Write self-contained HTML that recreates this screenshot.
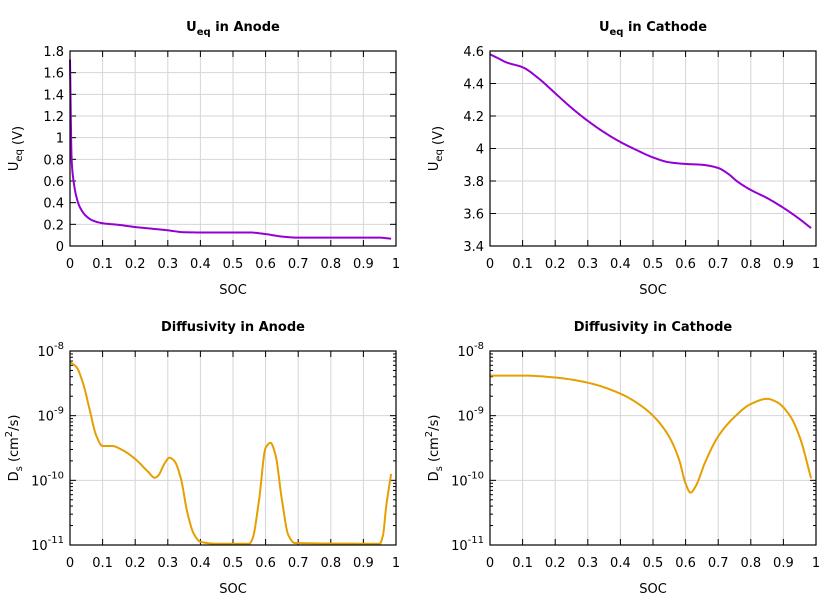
<!DOCTYPE html><html><head><meta charset="utf-8"><style>body{margin:0;background:#fff}svg{display:block}text{font-family:"DejaVu Sans","Liberation Sans",sans-serif;font-size:13px;fill:#000}</style></head><body>
<svg id="s" width="840" height="600" xmlns="http://www.w3.org/2000/svg"></svg>
<script>
const S=document.getElementById('s');let h='';
function mono(d){const n=d.length,xs=d.map(p=>p[0]),ys=d.map(p=>p[1]);const dl=[],m=[];for(let i=0;i<n-1;i++)dl.push((ys[i+1]-ys[i])/(xs[i+1]-xs[i]));m[0]=dl[0];m[n-1]=dl[n-2];for(let i=1;i<n-1;i++){if(dl[i-1]*dl[i]<=0)m[i]=0;else{const w1=2*(xs[i+1]-xs[i])+(xs[i]-xs[i-1]),w2=(xs[i+1]-xs[i])+2*(xs[i]-xs[i-1]);m[i]=(w1+w2)/(w1/dl[i-1]+w2/dl[i]);}}
 const out=[];for(let i=0;i<n-1;i++){const hh=xs[i+1]-xs[i];for(let k=0;k<20;k++){const t=k/20,h00=2*t*t*t-3*t*t+1,h10=t*t*t-2*t*t+t,h01=-2*t*t*t+3*t*t,h11=t*t*t-t*t;out.push([xs[i]+t*hh,h00*ys[i]+h10*hh*m[i]+h01*ys[i+1]+h11*hh*m[i+1]]);}}out.push(d[n-1]);return out;}
function panel(x0,x1,y0,y1,title,ylab,yt,ymin,ymax,log,data,col){
 const W=x1-x0,H=y1-y0,X=v=>x0+v*W,Y=v=>y1-(v-ymin)/(ymax-ymin)*H;
 for(let i=0;i<=10;i++){const x=X(i/10);if(i>0&&i<10)h+=`<line x1="${x}" y1="${y0}" x2="${x}" y2="${y1}" stroke="#d6d6d6"/>`;h+=`<line x1="${x}" y1="${y1}" x2="${x}" y2="${y1-6}" stroke="#000"/><line x1="${x}" y1="${y0}" x2="${x}" y2="${y0+6}" stroke="#000"/><text x="${x}" y="${y1+22}" text-anchor="middle">${i==0?0:i==10?1:(i/10)}</text>`;}
 yt.forEach((t,i)=>{const y=Y(t[0]);if(i>0&&i<yt.length-1)h+=`<line x1="${x0}" y1="${y}" x2="${x1}" y2="${y}" stroke="#d6d6d6"/>`;h+=`<line x1="${x0}" y1="${y}" x2="${x0+6}" y2="${y}" stroke="#000"/><line x1="${x1}" y1="${y}" x2="${x1-6}" y2="${y}" stroke="#000"/><text x="${x0-6}" y="${y+5}" text-anchor="end">${t[1]}</text>`;});
 if(log){for(let d=-11;d<-8;d++)for(let k=2;k<10;k++){const y=Y(d+Math.log10(k));h+=`<line x1="${x0}" y1="${y}" x2="${x0+3}" y2="${y}" stroke="#000"/><line x1="${x1}" y1="${y}" x2="${x1-3}" y2="${y}" stroke="#000"/>`;}}
 const pts=mono(data).map(p=>X(p[0]).toFixed(2)+','+Y(p[1]).toFixed(2));
 h+=`<polyline points="${pts.join(' ')}" fill="none" stroke="${col}" stroke-width="2" stroke-linejoin="round"/>`;
 h+=`<rect x="${x0}" y="${y0}" width="${W}" height="${H}" fill="none" stroke="#000" stroke-width="1.2"/>`;
 h+=`<text x="${(x0+x1)/2}" y="${y0-20}" text-anchor="middle" font-weight="bold">${title}</text>`;
 h+=`<text x="${(x0+x1)/2}" y="${y1+48}" text-anchor="middle">SOC</text>`;
 h+=`<text transform="translate(${x0-52},${(y0+y1)/2}) rotate(-90)" text-anchor="middle">${ylab}</text>`;
}
const sub=(a,b)=>`${a}<tspan font-size="10" dy="4">${b}</tspan><tspan dy="-4"></tspan>`;
const lt=[[-8,'10<tspan font-size="10" dy="-7">-8</tspan>'],[-9,'10<tspan font-size="10" dy="-7">-9</tspan>'],[-10,'10<tspan font-size="10" dy="-7">-10</tspan>'],[-11,'10<tspan font-size="10" dy="-7">-11</tspan>']].reverse();
const ytA=[];for(let i=0;i<=9;i++)ytA.push([i*0.2,i==0?'0':i==5?'1':(i*0.2).toFixed(1)]);
const ytC=[];for(let i=0;i<=6;i++)ytC.push([3.4+i*0.2,i==3?'4':(3.4+i*0.2).toFixed(1)]);
const P='#9400d3',O='#e69f00';
panel(70,396,51,246,'<tspan>U</tspan><tspan font-size="10" dy="4">eq</tspan><tspan dy="-4"> in Anode</tspan>',sub('U','eq')+' (V)',ytA,0,1.8,false,
[[0,1.72],[0.005,0.8],[0.01,0.62],[0.02,0.45],[0.03,0.36],[0.05,0.275],[0.07,0.235],[0.1,0.21],[0.15,0.195],[0.2,0.175],[0.25,0.16],[0.3,0.145],[0.35,0.127],[0.4,0.125],[0.55,0.125],[0.6,0.11],[0.65,0.087],[0.7,0.077],[0.9,0.077],[0.95,0.077],[0.985,0.067]],P);
panel(490,816,51,246,'<tspan>U</tspan><tspan font-size="10" dy="4">eq</tspan><tspan dy="-4"> in Cathode</tspan>',sub('U','eq')+' (V)',ytC,3.4,4.6,false,
[[0,4.58],[0.03,4.55],[0.05,4.53],[0.1,4.5],[0.15,4.43],[0.2,4.34],[0.25,4.25],[0.3,4.17],[0.35,4.1],[0.4,4.04],[0.45,3.99],[0.5,3.945],[0.55,3.915],[0.6,3.905],[0.65,3.9],[0.7,3.88],[0.73,3.845],[0.76,3.795],[0.8,3.745],[0.85,3.695],[0.9,3.635],[0.95,3.565],[0.985,3.51]],P);
const dl='D<tspan font-size="10" dy="4">s</tspan><tspan dy="-4"> (cm</tspan><tspan font-size="10" dy="-6">2</tspan><tspan dy="6">/s)</tspan>';
panel(70,396,351,545,'Diffusivity in Anode',dl,lt,-11,-8,true,
[[0,-8.17],[0.02,-8.25],[0.04,-8.5],[0.06,-8.9],[0.08,-9.3],[0.1,-9.47],[0.13,-9.47],[0.16,-9.53],[0.2,-9.67],[0.24,-9.87],[0.26,-9.96],[0.27,-9.93],[0.29,-9.74],[0.305,-9.65],[0.32,-9.7],[0.34,-9.97],[0.36,-10.5],[0.38,-10.83],[0.4,-10.95],[0.45,-10.98],[0.55,-10.98],[0.56,-10.9],[0.58,-10.3],[0.6,-9.5],[0.615,-9.42],[0.63,-9.6],[0.65,-10.3],[0.67,-10.85],[0.69,-10.97],[0.95,-10.98],[0.96,-10.85],[0.97,-10.4],[0.985,-9.9]],O);
panel(490,816,351,545,'Diffusivity in Cathode',dl,lt,-11,-8,true,
[[0,-8.38],[0.1,-8.38],[0.2,-8.41],[0.3,-8.49],[0.4,-8.66],[0.45,-8.8],[0.5,-9.0],[0.55,-9.33],[0.58,-9.68],[0.6,-10.05],[0.615,-10.19],[0.63,-10.1],[0.66,-9.72],[0.7,-9.32],[0.75,-9.02],[0.8,-8.82],[0.85,-8.74],[0.88,-8.79],[0.92,-9.0],[0.95,-9.33],[0.985,-9.97]],O);
S.innerHTML=h;
</script></body></html>
